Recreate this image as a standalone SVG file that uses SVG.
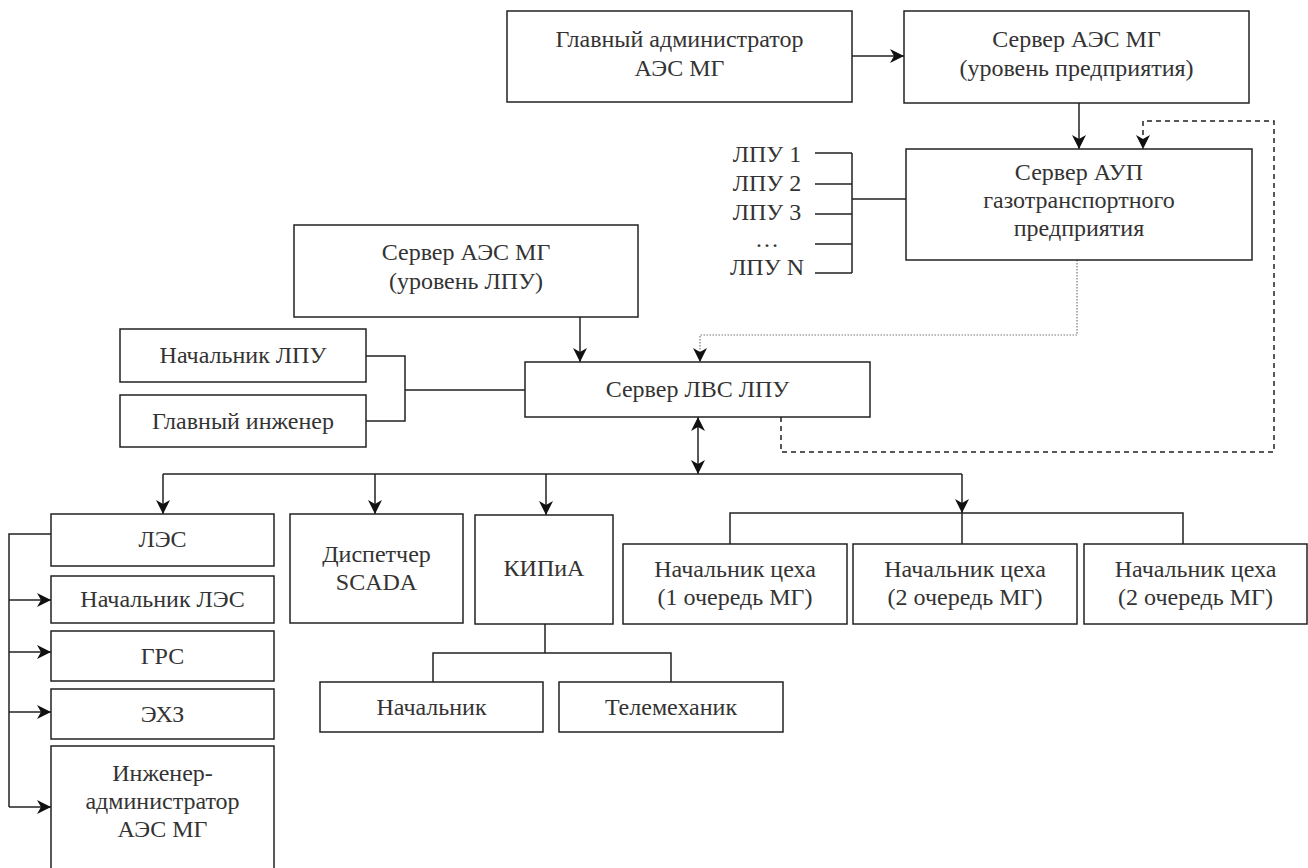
<svg xmlns="http://www.w3.org/2000/svg" width="1308" height="868" viewBox="0 0 1308 868">
<defs>
<marker id="arr" viewBox="0 0 14 14" refX="14" refY="7" markerWidth="14" markerHeight="14" markerUnits="userSpaceOnUse" orient="auto-start-reverse">
<path d="M0,0 L14,7 L0,14 L4,7 z" fill="#111"/>
</marker>
</defs>
<style>
rect.b{fill:#fff;stroke:#222;stroke-width:1.5}
text{font-size:24px;fill:#333;text-anchor:middle}
.ln{fill:none;stroke:#222;stroke-width:1.5}
.dash{fill:none;stroke:#222;stroke-width:1.5;stroke-dasharray:5 4}
.dot{fill:none;stroke:#777;stroke-width:1.2;stroke-dasharray:1.5 1.5}
</style>
<rect width="1308" height="868" fill="#fff"/>
<g id="connectors">
<path class="ln" d="M852,56 H904" marker-end="url(#arr)"/>
<path class="ln" d="M1079,103 V149" marker-end="url(#arr)"/>
<path class="dash" d="M781,417 V452 H1274 V121 H1143 V149" marker-end="url(#arr)"/>
<path class="dot" d="M1077,260 V335 H700 V362" marker-end="url(#arr)"/>
<path class="ln" d="M815,153 H852 M815,184 H852 M815,214 H852 M815,244 H852 M815,273 H852 M852,153 V273 M852,199 H906"/>
<path class="ln" d="M580,317 V362" marker-end="url(#arr)"/>
<path class="ln" d="M366,356 H405 V421 H366 M405,390 H525"/>
<path class="ln" d="M698,417 V474" marker-start="url(#arr)" marker-end="url(#arr)"/>
<path class="ln" d="M163,474 H962"/>
<path class="ln" d="M163,474 V514" marker-end="url(#arr)"/>
<path class="ln" d="M375,474 V514" marker-end="url(#arr)"/>
<path class="ln" d="M546,474 V515" marker-end="url(#arr)"/>
<path class="ln" d="M962,474 V513" marker-end="url(#arr)"/>
<path class="ln" d="M730,544 V513 H1183 V544 M962,513 V544"/>
<path class="ln" d="M545,624 V653 M433,682 V653 H671 V682"/>
<path class="ln" d="M51,534 H9 V807"/>
<path class="ln" d="M9,600 H51" marker-end="url(#arr)"/>
<path class="ln" d="M9,652 H51" marker-end="url(#arr)"/>
<path class="ln" d="M9,712 H51" marker-end="url(#arr)"/>
<path class="ln" d="M9,807 H51" marker-end="url(#arr)"/>
</g>
<g id="nodes" font-family="Liberation Serif, Tinos, Noto Serif, DejaVu Serif, FreeSerif, Times, serif">
<g id="n-glav-admin"><rect class="b" x="507" y="11" width="345" height="91"/><text x="679.5" y="47">Главный администратор</text><text x="679.5" y="76">АЭС МГ</text></g>
<g id="n-server-aes-pr"><rect class="b" x="904" y="11" width="345" height="92"/><text x="1076.5" y="47">Сервер АЭС МГ</text><text x="1076.5" y="76">(уровень предприятия)</text></g>
<g id="n-lpu-list"><text x="767" y="162">ЛПУ 1</text><text x="767" y="191">ЛПУ 2</text><text x="767" y="220">ЛПУ 3</text><text x="767" y="247">…</text><text x="767" y="275">ЛПУ N</text></g>
<g id="n-server-aup"><rect class="b" x="906" y="149" width="346" height="111"/><text x="1079" y="180">Сервер АУП</text><text x="1079" y="208">газотранспортного</text><text x="1079" y="236">предприятия</text></g>
<g id="n-server-aes-lpu"><rect class="b" x="294" y="225" width="344" height="92"/><text x="466" y="260">Сервер АЭС МГ</text><text x="466" y="289">(уровень ЛПУ)</text></g>
<g id="n-nach-lpu"><rect class="b" x="120" y="329" width="246" height="53"/><text x="243" y="363">Начальник ЛПУ</text></g>
<g id="n-glav-inzh"><rect class="b" x="120" y="395" width="246" height="52"/><text x="243" y="429">Главный инженер</text></g>
<g id="n-lvs"><rect class="b" x="525" y="362" width="345" height="55"/><text x="697.5" y="397">Сервер ЛВС ЛПУ</text></g>
<g id="n-les"><rect class="b" x="51" y="514" width="223" height="52"/><text x="162.5" y="547">ЛЭС</text></g>
<g id="n-nach-les"><rect class="b" x="51" y="576" width="223" height="47"/><text x="162.5" y="607">Начальник ЛЭС</text></g>
<g id="n-grs"><rect class="b" x="51" y="631" width="223" height="50"/><text x="162.5" y="664">ГРС</text></g>
<g id="n-ehz"><rect class="b" x="51" y="689" width="223" height="50"/><text x="162.5" y="722">ЭХЗ</text></g>
<g id="n-inzh-admin"><rect class="b" x="51" y="746" width="223" height="140"/><text x="162.5" y="781">Инженер-</text><text x="162.5" y="809">администратор</text><text x="162.5" y="837">АЭС МГ</text></g>
<g id="n-disp"><rect class="b" x="290" y="514" width="173" height="109"/><text x="376.5" y="562">Диспетчер</text><text x="376.5" y="590">SCADA</text></g>
<g id="n-kipia"><rect class="b" x="475" y="515" width="138" height="109"/><text x="544" y="576">КИПиА</text></g>
<g id="n-nc1"><rect class="b" x="623" y="544" width="224" height="80"/><text x="735" y="577">Начальник цеха</text><text x="735" y="605">(1 очередь МГ)</text></g>
<g id="n-nc2"><rect class="b" x="853" y="544" width="224" height="80"/><text x="965" y="577">Начальник цеха</text><text x="965" y="605">(2 очередь МГ)</text></g>
<g id="n-nc3"><rect class="b" x="1084" y="544" width="223" height="80"/><text x="1195.5" y="577">Начальник цеха</text><text x="1195.5" y="605">(2 очередь МГ)</text></g>
<g id="n-nachalnik"><rect class="b" x="320" y="682" width="223" height="50"/><text x="431.5" y="715">Начальник</text></g>
<g id="n-telemeh"><rect class="b" x="559" y="682" width="224" height="50"/><text x="671" y="715">Телемеханик</text></g>
</g>
</svg>
